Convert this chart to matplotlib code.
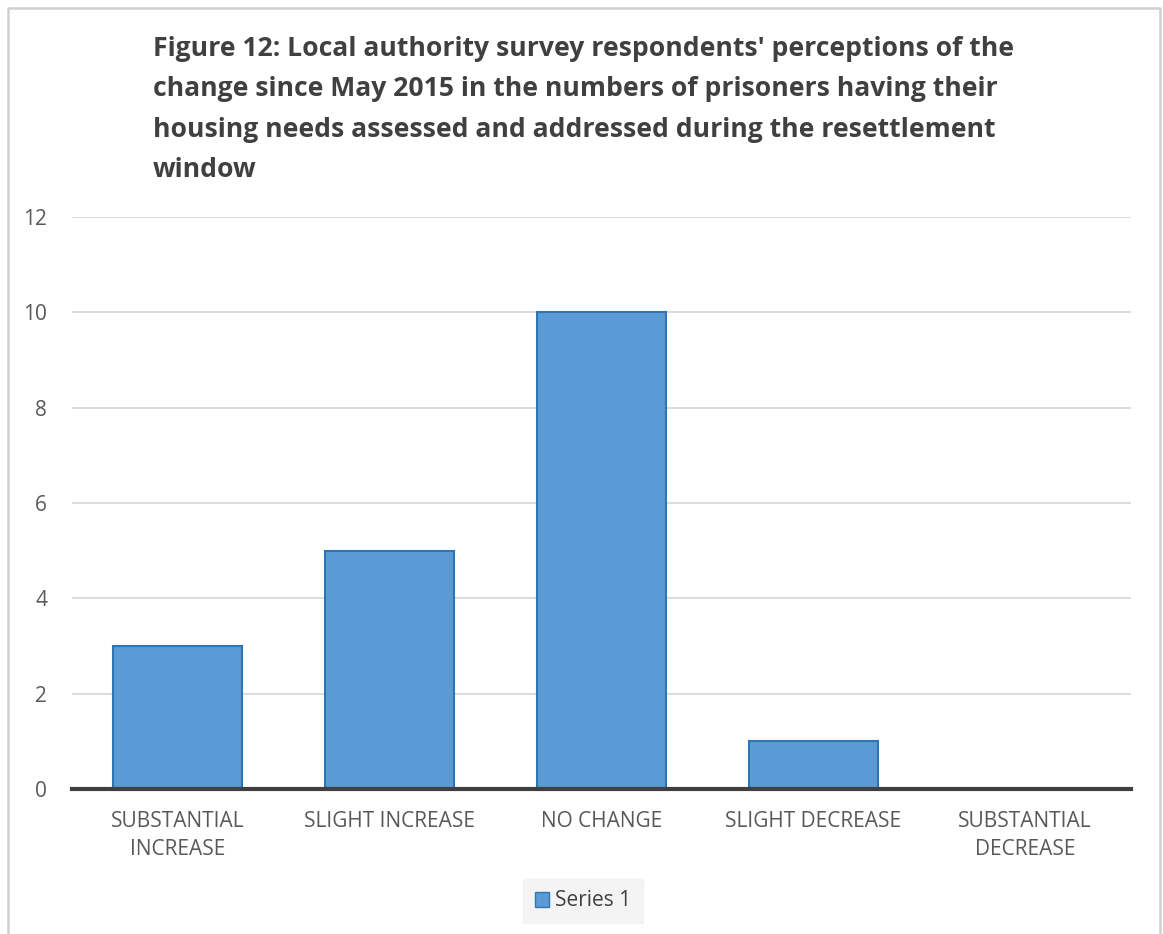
import matplotlib.pyplot as plt
from matplotlib.lines import Line2D
from matplotlib.patches import Patch

categories = ["SUBSTANTIAL\nINCREASE", "SLIGHT INCREASE", "NO CHANGE",
              "SLIGHT DECREASE", "SUBSTANTIAL\nDECREASE"]
values = [3, 5, 10, 1, 0]
yticks = [0, 2, 4, 6, 8, 10, 12]

title = ("Figure 12: Local authority survey respondents' perceptions of the\n"
         "change since May 2015 in the numbers of prisoners having their\n"
         "housing needs assessed and addressed during the resettlement\n"
         "window")

W, H = 1163, 934
fig = plt.figure(figsize=(W / 100, H / 100), dpi=100)
plt.rcParams["font.family"] = ["Open Sans", "DejaVu Sans"]

ax = fig.add_axes([72 / W, 1 - 789 / H, (1131 - 72) / W, (789 - 217) / H])

x = list(range(len(categories)))
ax.bar(x, values, width=0.61, color="#5b9bd5", edgecolor="#2e75b6", linewidth=1.5, zorder=3)

ax.set_xlim(-0.5, len(categories) - 0.5)
ax.set_ylim(0, 12)
ax.set_yticks(yticks)
ax.set_xticks(x)
ax.set_xticklabels(categories, fontsize=15, color="#595959", linespacing=1.4)
ax.tick_params(axis="y", labelsize=15, labelcolor="#595959", length=0, pad=18)
ax.tick_params(axis="x", length=0, pad=16)

ax.grid(axis="y", color="#d9d9d9", linewidth=1.3, zorder=0)
for side in ["top", "right", "left"]:
    ax.spines[side].set_visible(False)
ax.spines["bottom"].set_color("#404040")
ax.spines["bottom"].set_linewidth(3)
ax.spines["bottom"].set_zorder(4)

fig.text(153 / W, 1 - 36 / H, title, fontsize=19.1, fontweight="bold", color="#404040",
         ha="left", va="top", linespacing=1.72)

# chart area frame (open at the bottom)
fx0, fx1, fy = 7.5 / W, 1159.5 / W, 1 - 7.5 / H
fig.add_artist(Line2D([fx0, fx0, fx1, fx1], [0, fy, fy, 0], transform=fig.transFigure,
                      color="#d0d0d0", linewidth=1.8))

leg = fig.legend(handles=[Patch(facecolor="#5b9bd5", edgecolor="#2e75b6", label="Series 1")],
                 loc="center", bbox_to_anchor=(583 / W, 1 - 901 / H), fontsize=15,
                 frameon=True, handlelength=0.7, handleheight=0.7, handletextpad=0.3,
                 borderpad=0.55, fancybox=False)
leg.get_frame().set_facecolor("#f2f2f2")
leg.get_frame().set_edgecolor("#f2f2f2")
for t in leg.get_texts():
    t.set_color("#404040")

fig.savefig("out.png", dpi=100)
